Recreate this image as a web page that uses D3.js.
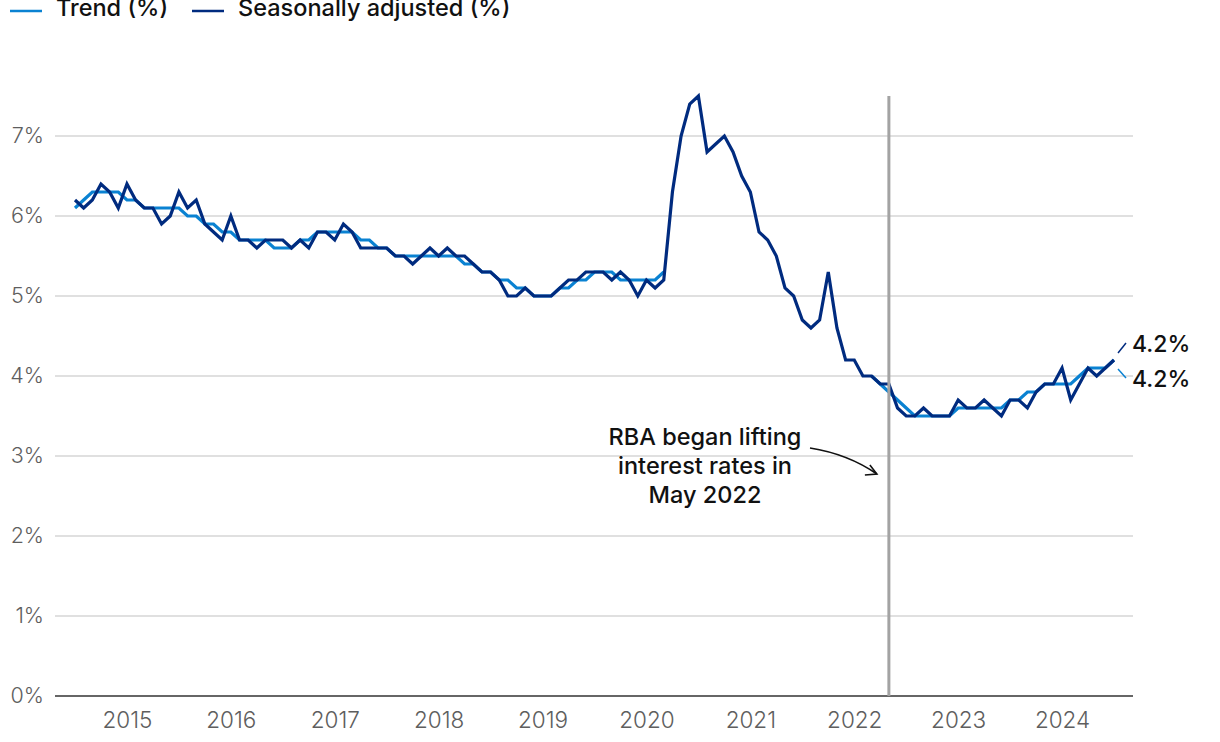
<!DOCTYPE html>
<html>
<head>
<meta charset="utf-8">
<script src="https://cdn.jsdelivr.net/npm/d3@7"></script>
<style>
  html, body { margin: 0; padding: 0; background: #fff; }
  svg { display: block; font-family: Inter, "Noto Sans", sans-serif; }
</style>
</head>
<body>
<svg id="chart" width="1220" height="742"></svg>
<script>
// Monthly data, July 2014 (index 0) to July 2024 (index 120)
const startYear = 2014, startMonth = 7;
const seasonallyAdjusted = [
  6.2, 6.1, 6.2, 6.4, 6.3, 6.1, 6.4, 6.2, 6.1, 6.1, 5.9, 6.0,
  6.3, 6.1, 6.2, 5.9, 5.8, 5.7, 6.0, 5.7, 5.7, 5.6, 5.7, 5.7,
  5.7, 5.6, 5.7, 5.6, 5.8, 5.8, 5.7, 5.9, 5.8, 5.6, 5.6, 5.6,
  5.6, 5.5, 5.5, 5.4, 5.5, 5.6, 5.5, 5.6, 5.5, 5.5, 5.4, 5.3,
  5.3, 5.2, 5.0, 5.0, 5.1, 5.0, 5.0, 5.0, 5.1, 5.2, 5.2, 5.3,
  5.3, 5.3, 5.2, 5.3, 5.2, 5.0, 5.2, 5.1, 5.2, 6.3, 7.0, 7.4,
  7.5, 6.8, 6.9, 7.0, 6.8, 6.5, 6.3, 5.8, 5.7, 5.5, 5.1, 5.0,
  4.7, 4.6, 4.7, 5.3, 4.6, 4.2, 4.2, 4.0, 4.0, 3.9, 3.9, 3.6,
  3.5, 3.5, 3.6, 3.5, 3.5, 3.5, 3.7, 3.6, 3.6, 3.7, 3.6, 3.5,
  3.7, 3.7, 3.6, 3.8, 3.9, 3.9, 4.1, 3.7, 3.9, 4.1, 4.0, 4.1,
  4.2
];
const trend = [
  6.1, 6.2, 6.3, 6.3, 6.3, 6.3, 6.2, 6.2, 6.1, 6.1, 6.1, 6.1,
  6.1, 6.0, 6.0, 5.9, 5.9, 5.8, 5.8, 5.7, 5.7, 5.7, 5.7, 5.6,
  5.6, 5.6, 5.7, 5.7, 5.8, 5.8, 5.8, 5.8, 5.8, 5.7, 5.7, 5.6,
  5.6, 5.5, 5.5, 5.5, 5.5, 5.5, 5.5, 5.5, 5.5, 5.4, 5.4, 5.3,
  5.3, 5.2, 5.2, 5.1, 5.1, 5.0, 5.0, 5.0, 5.1, 5.1, 5.2, 5.2,
  5.3, 5.3, 5.3, 5.2, 5.2, 5.2, 5.2, 5.2, 5.3, null, null, null,
  null, null, null, null, null, null, null, null, null, null, null, null,
  null, null, null, null, null, null, null, null, 4.0, 3.9, 3.8, 3.7,
  3.6, 3.5, 3.5, 3.5, 3.5, 3.5, 3.6, 3.6, 3.6, 3.6, 3.6, 3.6,
  3.7, 3.7, 3.8, 3.8, 3.9, 3.9, 3.9, 3.9, 4.0, 4.1, 4.1, 4.1,
  4.2
];
const yTicks = [0, 1, 2, 3, 4, 5, 6, 7];
const xTickYears = [2015, 2016, 2017, 2018, 2019, 2020, 2021, 2022, 2023, 2024];
const seriesNames = ["Trend (%)", "Seasonally adjusted (%)"];
const endLabels = ["4.2%", "4.2%"];
const annotationLines = ["RBA began lifting", "interest rates in", "May 2022"];
const rbaEvent = { year: 2022, month: 5 };

const colTrend = "#0a82d2";
const colSA = "#002b7f";

const monthIndex = (y, m) => (y - startYear) * 12 + (m - startMonth);

const svg = d3.select("#chart");
const x = d3.scaleLinear().domain([0, 120]).range([75, 1114]);
const y = d3.scaleLinear().domain([0, 7]).range([696, 136]);
const plotLeft = 55, plotRight = 1133;

// gridlines
svg.append("g").selectAll("line").data(yTicks.filter(d => d > 0)).join("line")
  .attr("x1", plotLeft).attr("x2", plotRight)
  .attr("y1", d => y(d)).attr("y2", d => y(d))
  .attr("stroke", "#d6d6d6").attr("stroke-width", 1.5);

// baseline
svg.append("line").attr("x1", plotLeft).attr("x2", plotRight)
  .attr("y1", y(0)).attr("y2", y(0)).attr("stroke", "#666").attr("stroke-width", 2);

// y axis labels
const yAxis = svg.append("g").attr("transform", `translate(${plotLeft},0)`)
  .call(d3.axisLeft(y).tickValues(yTicks).tickFormat(d => d + "%").tickSize(0).tickPadding(11));
yAxis.select(".domain").remove();
yAxis.selectAll("text").attr("font-family", "Inter, sans-serif").attr("font-size", 21.5)
  .attr("font-weight", 300).attr("fill", "#5e5e5e");

// x axis labels
const xAxis = svg.append("g").attr("transform", `translate(0,${y(0)})`)
  .call(d3.axisBottom(x).tickValues(xTickYears.map(yr => monthIndex(yr, 1)))
    .tickFormat((d, i) => xTickYears[i]).tickSize(0).tickPadding(16));
xAxis.select(".domain").remove();
xAxis.selectAll("text").attr("font-family", "Inter, sans-serif").attr("font-size", 22.5)
  .attr("font-weight", 300).attr("fill", "#5e5e5e");

// lines
const line = d3.line().defined(d => d != null).x((d, i) => x(i)).y(d => y(d));
svg.append("path").datum(trend).attr("d", line).attr("fill", "none")
  .attr("stroke", colTrend).attr("stroke-width", 3.2).attr("stroke-linejoin", "miter");
svg.append("path").datum(seasonallyAdjusted).attr("d", line).attr("fill", "none")
  .attr("stroke", colSA).attr("stroke-width", 3.2).attr("stroke-linejoin", "miter");

// RBA vertical line
const xe = x(monthIndex(rbaEvent.year, rbaEvent.month));
svg.append("line").attr("x1", xe).attr("x2", xe).attr("y1", 96).attr("y2", y(0))
  .attr("stroke", "#a3a3a3").attr("stroke-width", 3);

// annotation
const ann = svg.append("text").attr("text-anchor", "middle")
  .attr("font-size", 23.5).attr("font-weight", 500).attr("fill", "#111");
annotationLines.forEach((t, i) => {
  ann.append("tspan").attr("x", 705).attr("y", 445 + i * 29).text(t);
});
svg.append("path").attr("d", `M810,448 Q848,454 ${xe - 12},474`)
  .attr("fill", "none").attr("stroke", "#111").attr("stroke-width", 1.6);
svg.append("path").attr("d", `M${xe - 19},465 L${xe - 12},474 L${xe - 24},475`)
  .attr("fill", "none").attr("stroke", "#111").attr("stroke-width", 1.6);

// end labels
const last = 120;
const xl = x(last);
svg.append("line").attr("x1", xl + 4).attr("y1", y(seasonallyAdjusted[last]) - 7)
  .attr("x2", xl + 12).attr("y2", y(seasonallyAdjusted[last]) - 17)
  .attr("stroke", colSA).attr("stroke-width", 1.5);
svg.append("line").attr("x1", xl + 4).attr("y1", y(trend[last]) + 9)
  .attr("x2", xl + 12).attr("y2", y(trend[last]) + 18)
  .attr("stroke", colTrend).attr("stroke-width", 1.5);
svg.append("text").attr("x", 1132).attr("y", 352).attr("font-size", 23).attr("font-weight", 500)
  .attr("fill", "#111").text(endLabels[1]);
svg.append("text").attr("x", 1132).attr("y", 387).attr("font-size", 23).attr("font-weight", 500)
  .attr("fill", "#111").text(endLabels[0]);

// legend (partly cut off at the top edge, as in the source)
const legend = [
  { name: seriesNames[0], color: colTrend, x: 10 },
  { name: seriesNames[1], color: colSA, x: 192 }
];
const lg = svg.append("g").selectAll("g").data(legend).join("g")
  .attr("transform", d => `translate(${d.x},0)`);
lg.append("line").attr("x1", 0).attr("x2", 32).attr("y1", 11).attr("y2", 11)
  .attr("stroke", d => d.color).attr("stroke-width", 2.5);
lg.append("text").attr("x", 46).attr("y", 16).attr("font-size", 23.5).attr("font-weight", 500)
  .attr("fill", "#111").text(d => d.name);
</script>
</body>
</html>
